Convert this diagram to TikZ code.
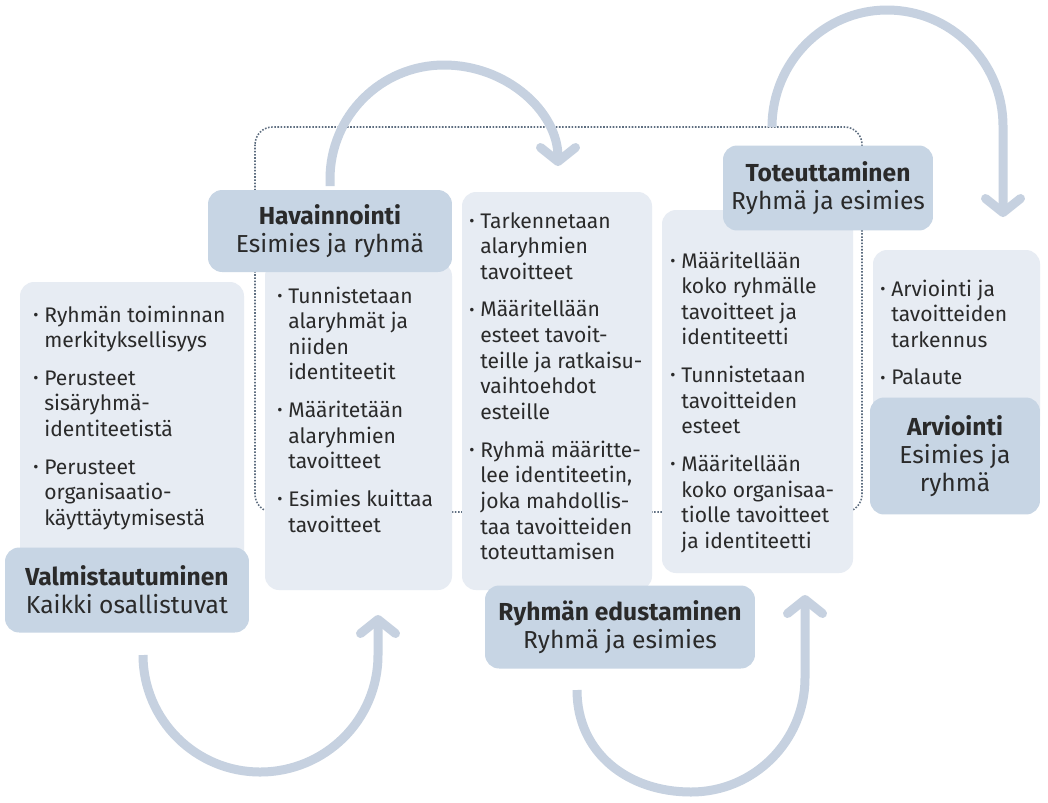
\documentclass[tikz,border=0pt]{standalone}
\usepackage{fontspec}
\setmainfont{Fira Sans}
\usetikzlibrary{arrows.meta}

\definecolor{headfill}{HTML}{C7D5E4}
\definecolor{listfill}{HTML}{E7ECF3}
\definecolor{arcgrey}{HTML}{C6D1E0}
\definecolor{dotline}{HTML}{5E6E80}
\definecolor{ink}{HTML}{2A2A2A}

% small bullet used in the lists
\newcommand{\bpt}{\makebox[0.22cm][l]{\raisebox{0.15ex}{\scalebox{0.75}{•}}}}
\newcommand{\gap}{\\[0.24cm]}

\tikzset{
  listbox/.style={fill=listfill, rounded corners=8pt},
  headbox/.style={fill=headfill, rounded corners=8pt, align=center, text=ink,
    font=\fontsize{14}{16}\selectfont, inner sep=0pt},
  listtext/.style={anchor=base west, inner sep=0pt, text=ink,
    font=\fontsize{12}{14.6}\selectfont},
  cyclearc/.style={draw=arcgrey, line width=0.18cm,
    -{Straight Barb[length=0.28cm, width=0.7cm, round]}}
}

\begin{document}
\begin{tikzpicture}[x=0.02cm, y=-0.02cm]
  \useasboundingbox (0,0) rectangle (1048,802);
  \fill[white] (0,0) rectangle (1048,802);

  % dotted frame round the middle phases
  \draw[dotline, line width=0.9pt, dash pattern=on 0.9pt off 0.9pt, rounded corners=10pt]
    (255,127) rectangle (862,512);

  % light list boxes
  \fill[listbox] (20,282) rectangle (244,575);
  \fill[listbox] (265,262) rectangle (452,590);
  \fill[listbox] (462,192) rectangle (652,590);
  \fill[listbox] (662,210) rectangle (853,573);
  \fill[listbox] (873,250) rectangle (1040,440);

  % list texts
  \node[listtext] (preplist) at (33,322) {\begin{tabular}[t]{@{}l@{}l@{}}
    \bpt & Ryhmän toiminnan\\ & merkityksellisyys\gap
    \bpt & Perusteet\\ & sisäryhmä-\\ & identiteetistä\gap
    \bpt & Perusteet\\ & organisaatio-\\ & käyttäytymisestä
  \end{tabular}};
  \node[listtext] (obslist) at (277,303) {\begin{tabular}[t]{@{}l@{}l@{}}
    \bpt & Tunnistetaan\\ & alaryhmät ja\\ & niiden\\ & identiteetit\gap
    \bpt & Määritetään\\ & alaryhmien\\ & tavoitteet\gap
    \bpt & Esimies kuittaa\\ & tavoitteet
  \end{tabular}};
  \node[listtext] (goallist) at (469,228) {\begin{tabular}[t]{@{}l@{}l@{}}
    \bpt & Tarkennetaan\\ & alaryhmien\\ & tavoitteet\gap
    \bpt & Määritellään\\ & esteet tavoit-\\ & teille ja ratkaisu-\\ & vaihtoehdot\\ & esteille\gap
    \bpt & Ryhmä määritte-\\ & lee identiteetin,\\ & joka mahdollis-\\ & taa tavoitteiden\\ & toteuttamisen
  \end{tabular}};
  \node[listtext] (implist) at (670,268) {\begin{tabular}[t]{@{}l@{}l@{}}
    \bpt & Määritellään\\ & koko ryhmälle\\ & tavoitteet ja\\ & identiteetti\gap
    \bpt & Tunnistetaan\\ & tavoitteiden\\ & esteet\gap
    \bpt & Määritellään\\ & koko organisaa-\\ & tiolle tavoitteet\\ & ja identiteetti
  \end{tabular}};
  \node[listtext] (evallist) at (880,296) {\begin{tabular}[t]{@{}l@{}l@{}}
    \bpt & Arviointi ja\\ & tavoitteiden\\ & tarkennus\gap
    \bpt & Palaute
  \end{tabular}};

  % phase headers
  \node[headbox, minimum width=4.88cm, minimum height=1.70cm] (prephead) at (127,590)
    {\textbf{Valmistautuminen}\\Kaikki osallistuvat};
  \node[headbox, minimum width=4.88cm, minimum height=1.64cm] (obshead) at (330,231)
    {\textbf{Havainnointi}\\Esimies ja ryhmä};
  \node[headbox, minimum width=4.20cm, minimum height=1.70cm] (imphead) at (828,188)
    {\textbf{Toteuttaminen}\\Ryhmä ja esimies};
  \node[headbox, minimum width=5.40cm, minimum height=1.66cm] (rephead) at (620,627)
    {\textbf{Ryhmän edustaminen}\\Ryhmä ja esimies};
  \node[headbox, minimum width=3.40cm, minimum height=2.34cm] (evalhead) at (955,456)
    {\textbf{Arviointi}\\Esimies ja\\ryhmä};

  % ends of the cycle arrows
  \coordinate (obsup) at (330,186);
  \coordinate (goaldown) at (558,166);
  \coordinate (frametop) at (772,127);
  \coordinate (evaldown) at (1003,217);
  \coordinate (prepdown) at (143,655);
  \coordinate (obsbelow) at (378,615);
  \coordinate (repdown) at (577,690);
  \coordinate (impbelow) at (805,595);

  % cycle arrows
  \draw[cyclearc] (obsup) -- (330,179) .. controls (330,116) and (381,65) .. (444,65)
    .. controls (507,65) and (558,112) .. (goaldown);
  \draw[cyclearc] (frametop) .. controls (772,62) and (824,10) .. (887,10)
    .. controls (951,10) and (1003,62) .. (1003,126) -- (evaldown);
  \draw[cyclearc] (prepdown) .. controls (143,720) and (196,772) .. (260,772)
    .. controls (325,772) and (378,720) .. (378,655) -- (obsbelow);
  \draw[cyclearc] (repdown) .. controls (577,753) and (628,792) .. (691,792)
    .. controls (754,792) and (805,741) .. (805,678) -- (impbelow);
\end{tikzpicture}
\end{document}
